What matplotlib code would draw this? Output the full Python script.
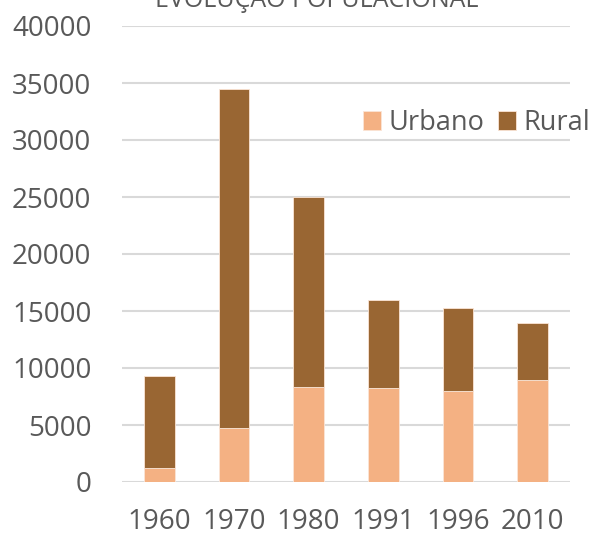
import matplotlib.pyplot as plt
import numpy as np

# Data
years = ['1960', '1970', '1980', '1991', '1996', '2010']
urbano = [1230, 4700, 8360, 8270, 8010, 8950]
rural = [8100, 29800, 16640, 7730, 7220, 5000]
y_ticks = [0, 5000, 10000, 15000, 20000, 25000, 30000, 35000, 40000]

grey = '#595959'
plt.rcParams['font.family'] = ['Open Sans', 'DejaVu Sans']

fig = plt.figure(figsize=(5.97, 5.35), dpi=100)
ax = fig.add_axes([122 / 597, 53 / 535, 448 / 597, 456 / 535])

x = np.arange(len(years))
ax.bar(x, urbano, width=0.41, color='#F4B183', edgecolor='#FBE5D6', linewidth=0.6,
       label='Urbano', zorder=3)
ax.bar(x, rural, width=0.41, bottom=urbano, color='#996633', edgecolor='#FBE5D6',
       linewidth=0.6, label='Rural', zorder=3)

ax.set_xlim(-0.5, len(years) - 0.5)
ax.set_ylim(0, 40000)
ax.set_yticks(y_ticks)
ax.set_xticks(x)
ax.set_xticklabels(years)
ax.tick_params(axis='y', length=0, pad=22, labelsize=20, labelcolor=grey)
ax.tick_params(axis='x', length=0, pad=19, labelsize=20, labelcolor=grey)
ax.grid(axis='y', color='#D9D9D9', linewidth=1.5, zorder=0)
for s in ax.spines.values():
    s.set_visible(False)

leg = ax.legend(loc='center left', bbox_to_anchor=(241 / 448, 359 / 456), ncol=2,
                frameon=False, fontsize=19.5, handlelength=0.65, handleheight=0.65,
                handletextpad=0.3, columnspacing=0.5, borderpad=0, borderaxespad=0)
for t in leg.get_texts():
    t.set_color(grey)

fig.text(317 / 597, 1 - 7 / 535, 'EVOLUÇÃO POPULACIONAL', ha='center', va='baseline',
         fontsize=18, color=grey)

fig.savefig('out.png', dpi=100)
